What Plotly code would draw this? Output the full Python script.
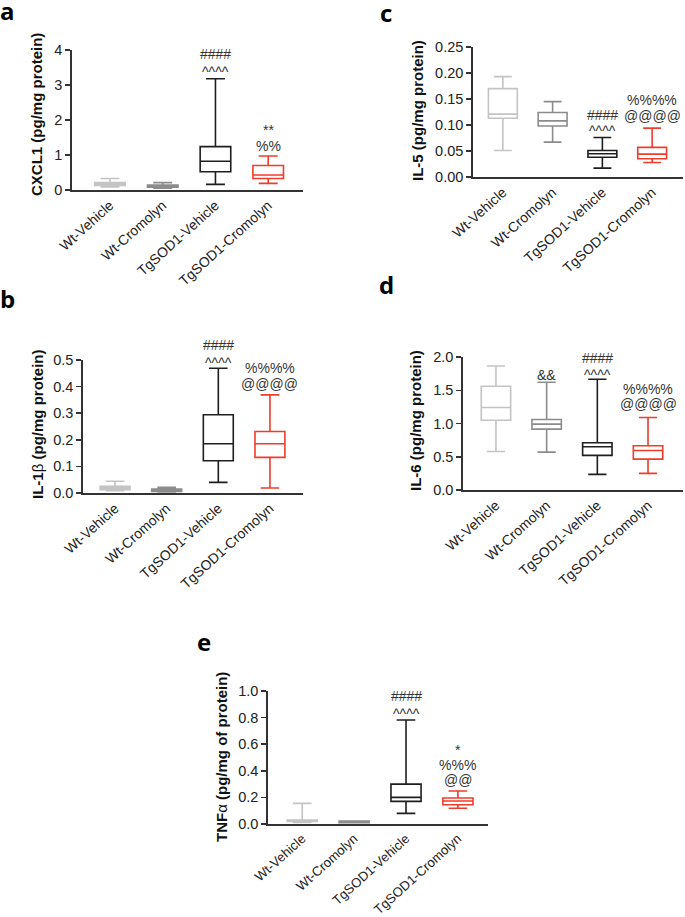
import plotly.graph_objects as go

W, H = 685, 917

groups = ["Wt-Vehicle", "Wt-Cromolyn", "TgSOD1-Vehicle", "TgSOD1-Cromolyn"]
colors = ["#c4c4c4", "#8c8c8c", "#1e1e1e", "#f03c2a"]

# Panel a: CXCL1
cxcl1_low = [0.09, 0.05, 0.16, 0.19]
cxcl1_q1 = [0.13, 0.08, 0.52, 0.33]
cxcl1_med = [0.17, 0.11, 0.82, 0.43]
cxcl1_q3 = [0.21, 0.14, 1.24, 0.70]
cxcl1_high = [0.33, 0.21, 3.18, 0.97]

# Panel b: IL-1beta
il1b_low = [0.009, 0.004, 0.04, 0.019]
il1b_q1 = [0.0125, 0.006, 0.121, 0.134]
il1b_med = [0.019, 0.010, 0.185, 0.185]
il1b_q3 = [0.025, 0.015, 0.294, 0.231]
il1b_high = [0.044, 0.021, 0.469, 0.369]

# Panel c: IL-5
il5_low = [0.051, 0.067, 0.017, 0.028]
il5_q1 = [0.113, 0.098, 0.038, 0.035]
il5_med = [0.121, 0.108, 0.0446, 0.044]
il5_q3 = [0.170, 0.124, 0.051, 0.057]
il5_high = [0.193, 0.145, 0.076, 0.094]

# Panel d: IL-6
il6_low = [0.58, 0.57, 0.235, 0.25]
il6_q1 = [1.05, 0.915, 0.52, 0.465]
il6_med = [1.24, 0.99, 0.65, 0.595]
il6_q3 = [1.56, 1.06, 0.71, 0.665]
il6_high = [1.865, 1.62, 1.665, 1.09]

# Panel e: TNF-alpha
tnf_low = [0.012, 0.010, 0.08, 0.118]
tnf_q1 = [0.020, 0.010, 0.17, 0.145]
tnf_med = [0.025, 0.015, 0.20, 0.173]
tnf_q3 = [0.030, 0.022, 0.30, 0.195]
tnf_high = [0.155, 0.022, 0.782, 0.248]

# significance marks: (group index, y value, text)
sig_a = [(2, 3.88, "####"), (2, 3.37, "^^^^"), (3, 1.72, "**"), (3, 1.26, "%%")]
sig_b = [(2, 0.556, "####"), (2, 0.489, "^^^^"), (3, 0.47, "%%%%"), (3, 0.41, "@@@@")]
sig_c = [(2, 0.119, "####"), (2, 0.088, "^^^^"), (3, 0.148, "%%%%"), (3, 0.117, "@@@@")]
sig_d = [(1, 1.73, "&&"), (2, 1.99, "####"), (2, 1.73, "^^^^"), (3, 1.525, "%%%%"), (3, 1.29, "@@@@")]
sig_e = [(2, 0.96, "####"), (2, 0.83, "^^^^"), (3, 0.56, "*"), (3, 0.44, "%%%"), (3, 0.33, "@@")]

panels = [
    dict(letter="a", title="<b>CXCL1 (pg/mg protein)</b>",
         stats=(cxcl1_low, cxcl1_q1, cxcl1_med, cxcl1_q3, cxcl1_high), sig=sig_a,
         px=(72, 303), py=(50, 190), yr=(0, 4), dtick=1, fmt="d", xr=(-0.72, 3.66),
         tx=37, ty=115, lx=8, ly=11, xfs=14),
    dict(letter="b", title="<b>IL-1</b>β<b> (pg/mg protein)</b>",
         stats=(il1b_low, il1b_q1, il1b_med, il1b_q3, il1b_high), sig=sig_b,
         px=(83, 303), py=(360, 493), yr=(0, 0.5), dtick=0.1, fmt=".1f", xr=(-0.62, 3.64),
         tx=37, ty=425, lx=8, ly=298, xfs=14),
    dict(letter="c", title="<b>IL-5 (pg/mg protein)</b>",
         stats=(il5_low, il5_q1, il5_med, il5_q3, il5_high), sig=sig_c,
         px=(473, 683), py=(47, 177), yr=(0, 0.25), dtick=0.05, fmt=".2f", xr=(-0.6, 3.62),
         tx=417, ty=111, lx=386, ly=12, xfs=14),
    dict(letter="d", title="<b>IL-6 (pg/mg protein)</b>",
         stats=(il6_low, il6_q1, il6_med, il6_q3, il6_high), sig=sig_d,
         px=(463, 683), py=(357, 490), yr=(0, 2), dtick=0.5, fmt=".1f", xr=(-0.65, 3.69),
         tx=415, ty=421, lx=386, ly=284, xfs=14),
    dict(letter="e", title="<b>TNF</b>α<b> (pg/mg of protein)</b>",
         stats=(tnf_low, tnf_q1, tnf_med, tnf_q3, tnf_high), sig=sig_e,
         px=(268, 488), py=(691, 824), yr=(0, 1), dtick=0.2, fmt=".1f", xr=(-0.66, 3.58),
         tx=221, ty=757, lx=204, ly=641, xfs=13.2),
]

fig = go.Figure()
annotations = []
FONT = "Liberation Sans, Arial, sans-serif"
AX = "#333333"

for i, p in enumerate(panels):
    n = "" if i == 0 else str(i + 1)
    xa, ya = "x" + n, "y" + n
    low, q1, med, q3, high = p["stats"]
    for g in range(4):
        fig.add_trace(go.Box(
            x=[groups[g]], lowerfence=[low[g]], q1=[q1[g]], median=[med[g]],
            q3=[q3[g]], upperfence=[high[g]],
            xaxis=xa, yaxis=ya, width=0.58, whiskerwidth=0.62,
            line=dict(color=colors[g], width=1.6), fillcolor="white",
            boxpoints=False, showlegend=False, hoverinfo="skip"))
    x0, x1 = p["px"]
    y0, y1 = p["py"]
    r0, r1 = p["yr"]
    fig.layout["xaxis" + n] = dict(
        domain=[x0 / W, x1 / W], anchor=ya, type="category", automargin=False,
        categoryorder="array", categoryarray=groups, range=list(p["xr"]),
        showline=True, linecolor=AX, linewidth=1.8, ticks="", showgrid=False,
        zeroline=False, tickangle=-42,
        tickfont=dict(family=FONT, size=p["xfs"], color="#222"), fixedrange=True)
    fig.layout["yaxis" + n] = dict(
        domain=[1 - y1 / H, 1 - y0 / H], anchor=xa, range=[r0, r1], automargin=False,
        dtick=p["dtick"], tick0=0, tickformat=p["fmt"],
        showline=True, linecolor=AX, linewidth=1.8, ticks="outside", ticklen=5,
        tickwidth=1.5, tickcolor=AX, showgrid=False, zeroline=False,
        tickfont=dict(family=FONT, size=14.5, color="#222"), fixedrange=True)
    for (gi, yv, txt) in p["sig"]:
        # position in the y-axis domain frame so marks above the axis top stay visible
        annotations.append(dict(
            x=groups[gi], y=(yv - r0) / (r1 - r0), xref=xa, yref=ya + " domain",
            text=txt, showarrow=False, xanchor="center", yanchor="middle",
            font=dict(family=FONT, size=14, color="#333")))
    annotations.append(dict(
        x=p["tx"] / W, y=1 - p["ty"] / H, xref="paper", yref="paper",
        text=p["title"], textangle=-90, showarrow=False,
        xanchor="center", yanchor="middle",
        font=dict(family=FONT, size=15, color="#111")))
    annotations.append(dict(
        x=p["lx"] / W, y=1 - p["ly"] / H, xref="paper", yref="paper",
        text="<b>" + p["letter"] + "</b>", showarrow=False,
        xanchor="center", yanchor="middle",
        font=dict(family="Open Sans, sans-serif", size=24, color="#000")))

fig.update_layout(
    width=W, height=H, margin=dict(l=0, r=0, t=0, b=0, autoexpand=False),
    paper_bgcolor="white", plot_bgcolor="white",
    annotations=annotations, boxmode="overlay")

fig.write_html(
    "out.html",
    config={"displayModeBar": False, "staticPlot": True},
    post_script="document.body.style.margin='0';document.body.style.padding='0';"
                "document.documentElement.style.overflow='hidden';")
